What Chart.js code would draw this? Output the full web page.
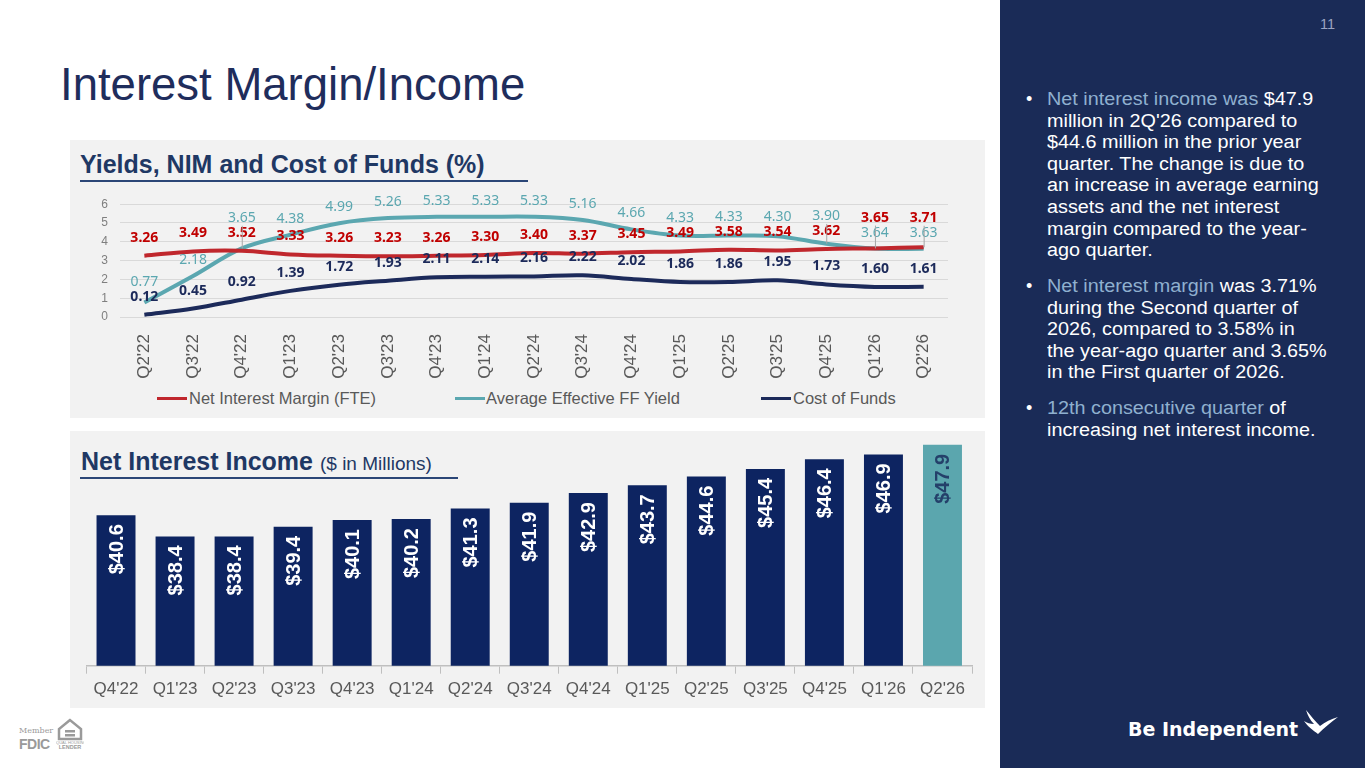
<!DOCTYPE html>
<html><head><meta charset="utf-8">
<script src="https://cdn.jsdelivr.net/npm/chart.js@4.4.0/dist/chart.umd.min.js"></script>
<style>
html,body{margin:0;padding:0;}
body{width:1365px;height:768px;position:relative;background:#fff;overflow:hidden;font-family:"Liberation Sans",Arial,sans-serif;}
.abs{position:absolute;}
#title{left:60px;top:62px;font-size:45.5px;line-height:46px;color:#1f2d5c;white-space:nowrap;}
.panel{background:#f2f2f2;}
.sub{color:#1f3864;font-weight:bold;white-space:nowrap;}
.uline{height:2px;background:#2b4677;}
#side{left:1000px;top:0;width:365px;height:768px;background:#1a2b57;}
.txt{color:#fff;font-size:18px;line-height:21.6px;white-space:nowrap;transform:scaleX(1.1);transform-origin:0 0;}
.hl{color:#8fb0cf;}
.bul{color:#fff;font-size:18px;line-height:21.6px;}
.leg{font-size:16.5px;color:#595959;white-space:nowrap;line-height:20px;}
.mk{height:3px;width:30px;}
</style></head><body>
<div id="title" class="abs">Interest Margin/Income</div>

<div class="abs panel" style="left:70px;top:140px;width:915px;height:278px;"></div>
<div class="abs sub" style="left:80px;top:151px;font-size:25px;line-height:26px;">Yields, NIM and Cost of Funds (%)</div>
<div class="abs uline" style="left:80px;top:180px;width:448px;"></div>
<canvas id="rates" class="abs" style="left:70px;top:185px;width:915px;height:200px;"></canvas>

<div class="abs mk" style="left:157px;top:397px;background:#c0272d;"></div>
<div class="abs leg" style="left:189px;top:388px;">Net Interest Margin (FTE)</div>
<div class="abs mk" style="left:455px;top:397px;background:#5ba7b0;"></div>
<div class="abs leg" style="left:486px;top:388px;">Average Effective FF Yield</div>
<div class="abs mk" style="left:761px;top:397px;background:#1c2a5a;"></div>
<div class="abs leg" style="left:793px;top:388px;">Cost of Funds</div>

<div class="abs panel" style="left:70px;top:431px;width:915px;height:277px;"></div>
<div class="abs sub" style="left:81px;top:448px;font-size:25px;line-height:27px;">Net Interest Income <span style="font-weight:normal;font-size:19px;">($ in Millions)</span></div>
<div class="abs uline" style="left:80px;top:477px;width:378px;"></div>
<canvas id="income" class="abs" style="left:70px;top:430px;width:915px;height:278px;"></canvas>

<div id="side" class="abs"></div>
<div class="abs" style="left:1320px;top:16px;font-size:14.5px;color:#9aa5c2;">11</div>

<div class="abs bul" style="left:1026px;top:89px;">•</div>
<div class="abs txt" style="left:1047px;top:89px;"><span class="hl">Net interest income was</span> $47.9<br>million in 2Q'26 compared to<br>$44.6 million in the prior year<br>quarter. The change is due to<br>an increase in average earning<br>assets and the net interest<br>margin compared to the year-<br>ago quarter.</div>
<div class="abs bul" style="left:1026px;top:276px;">•</div>
<div class="abs txt" style="left:1047px;top:276px;"><span class="hl">Net interest margin</span> was 3.71%<br>during the Second quarter of<br>2026, compared to 3.58% in<br>the year-ago quarter and 3.65%<br>in the First quarter of 2026.</div>
<div class="abs bul" style="left:1026px;top:398px;">•</div>
<div class="abs txt" style="left:1047px;top:398px;"><span class="hl">12th consecutive quarter</span> of<br>increasing net interest income.</div>

<div class="abs" style="left:1128px;top:720px;color:#fff;font-family:'DejaVu Sans',sans-serif;font-weight:bold;font-size:19px;line-height:19px;white-space:nowrap;">Be Independent</div>
<svg class="abs" style="left:1303px;top:708px;" width="36" height="30" viewBox="0 0 36 30"><path d="M3 2 C5 8 7 12 11 16 C7 16 4 15 1 13 C5 19 10 22 15 26 C21 20 28 14 35 9 C28 11 22 14 17 18 C12 13 8 8 3 2 Z" fill="#fff"/></svg>

<div class="abs" style="left:19px;top:726px;font-family:'DejaVu Serif',serif;font-size:8px;color:#9a9a9a;">Member</div>
<div class="abs" style="left:19px;top:736px;font-weight:bold;font-size:14px;color:#9a9a9a;letter-spacing:-0.5px;">FDIC</div>
<svg class="abs" style="left:56px;top:718px;" width="28" height="32" viewBox="0 0 28 32"><path d="M14 2 L3 11 L3 21 L25 21 L25 11 Z" fill="none" stroke="#9a9a9a" stroke-width="2.5"/><rect x="9" y="12" width="10" height="2.5" fill="#9a9a9a"/><rect x="9" y="16" width="10" height="2.5" fill="#9a9a9a"/><text x="14" y="26" font-size="4" text-anchor="middle" fill="#9a9a9a" font-family="Liberation Sans">EQUAL HOUSING</text><text x="14" y="31" font-size="5.5" font-weight="bold" text-anchor="middle" fill="#9a9a9a" font-family="Liberation Sans">LENDER</text></svg>

<script>
// ---------- data ----------
const rateQuarters = ["Q2'22","Q3'22","Q4'22","Q1'23","Q2'23","Q3'23","Q4'23","Q1'24","Q2'24","Q3'24","Q4'24","Q1'25","Q2'25","Q3'25","Q4'25","Q1'26","Q2'26"];
const netInterestMargin = [3.26,3.49,3.52,3.33,3.26,3.23,3.26,3.30,3.40,3.37,3.45,3.49,3.58,3.54,3.62,3.65,3.71];
const avgEffectiveFFYield = [0.77,2.18,3.65,4.38,4.99,5.26,5.33,5.33,5.33,5.16,4.66,4.33,4.33,4.30,3.90,3.64,3.63];
const costOfFunds = [0.12,0.45,0.92,1.39,1.72,1.93,2.11,2.14,2.16,2.22,2.02,1.86,1.86,1.95,1.73,1.60,1.61];
const rateSeriesNames = ["Net Interest Margin (FTE)","Average Effective FF Yield","Cost of Funds"];
const rateAxisMin = 0, rateAxisMax = 6, rateAxisStep = 1;

const incomeQuarters = ["Q4'22","Q1'23","Q2'23","Q3'23","Q4'23","Q1'24","Q2'24","Q3'24","Q4'24","Q1'25","Q2'25","Q3'25","Q4'25","Q1'26","Q2'26"];
const netInterestIncome = [40.6,38.4,38.4,39.4,40.1,40.2,41.3,41.9,42.9,43.7,44.6,45.4,46.4,46.9,47.9];
const incomeAxisMin = 25, incomeAxisMax = 48.5;

// ---------- styles ----------
const RED = '#c0272d', TEAL = '#5ba7b0', NAVY = '#1c2a5a';
const BAR_NAVY = '#0d2461', BAR_TEAL = '#5ba6ae';
const FONT = '"Liberation Sans", Arial, sans-serif';

const lineLabels = {
  id: 'lineLabels',
  afterDatasetsDraw(chart, args, opts) {
    const ctx = chart.ctx;
    const n = chart.data.labels.length;
    for (let i = 0; i < n; i++) {
      const items = chart.data.datasets.map((ds, di) => {
        const el = chart.getDatasetMeta(di).data[i];
        return { v: ds.data[i], x: el.x, py: el.y, y: el.y - opts.offset[di], st: opts.styles[di] };
      }).sort((a, b) => a.v - b.v);
      let prev = Infinity;
      items.forEach(it => {
        const y = Math.min(it.y, prev - opts.gap);
        prev = y;
        ctx.save();
        if (it.y - y > 8) {
          ctx.strokeStyle = opts.leaderColor;
          ctx.lineWidth = 1;
          ctx.beginPath();
          ctx.moveTo(it.x + 0.5, y + 8);
          ctx.lineTo(it.x + 0.5, it.py);
          ctx.stroke();
        }
        ctx.font = it.st.font;
        ctx.fillStyle = it.st.color;
        ctx.textAlign = 'center';
        ctx.textBaseline = 'middle';
        ctx.fillText(it.v.toFixed(2), it.x, y);
        ctx.restore();
      });
    }
  }
};

new Chart(document.getElementById('rates'), {
  type: 'line',
  data: {
    labels: rateQuarters,
    datasets: [
      { label: rateSeriesNames[0], data: netInterestMargin, borderColor: RED, backgroundColor: RED },
      { label: rateSeriesNames[1], data: avgEffectiveFFYield, borderColor: TEAL, backgroundColor: TEAL },
      { label: rateSeriesNames[2], data: costOfFunds, borderColor: NAVY, backgroundColor: NAVY }
    ]
  },
  options: {
    responsive: false,
    animation: false,
    devicePixelRatio: 1,
    layout: { padding: { top: 15, right: 37, left: 0, bottom: 0 } },
    elements: { line: { borderWidth: 4, tension: 0.35, cubicInterpolationMode: 'default' }, point: { radius: 0, hoverRadius: 0 } },
    plugins: {
      legend: { display: false },
      tooltip: { enabled: false },
      lineLabels: {
        offset: [18, 16, 18],
        gap: 15,
        leaderColor: '#a6a6a6',
        styles: [
          { font: 'bold 14px "Noto Sans", sans-serif', color: '#c00000' },
          { font: '14px "Noto Sans", sans-serif', color: TEAL },
          { font: 'bold 14px "Noto Sans", sans-serif', color: NAVY }
        ]
      }
    },
    scales: {
      x: {
        offset: true,
        grid: { display: false },
        border: { display: false },
        ticks: { color: '#595959', font: { family: FONT, size: 17 }, minRotation: 90, maxRotation: 90, padding: 9, autoSkip: false },
        afterFit: s => { s.height = 68; }
      },
      y: {
        min: rateAxisMin, max: rateAxisMax,
        grid: { color: '#d9d9d9', lineWidth: 1, drawTicks: false },
        border: { display: false },
        ticks: { stepSize: rateAxisStep, color: '#7f7f7f', font: { family: FONT, size: 12 }, padding: 12 },
        afterFit: s => { s.width = 50; }
      }
    }
  },
  plugins: [lineLabels]
});

const barLabels = {
  id: 'barLabels',
  afterDatasetsDraw(chart, args, opts) {
    const ctx = chart.ctx;
    const meta = chart.getDatasetMeta(0);
    const data = chart.data.datasets[0].data;
    meta.data.forEach((el, i) => {
      ctx.save();
      ctx.translate(el.x, el.y + opts.inset);
      ctx.rotate(-Math.PI / 2);
      ctx.font = opts.font;
      ctx.fillStyle = i === data.length - 1 ? opts.lastColor : opts.color;
      ctx.textAlign = 'right';
      ctx.textBaseline = 'middle';
      ctx.fillText('$' + data[i].toFixed(1), 0, 1);
      ctx.restore();
    });
  }
};

new Chart(document.getElementById('income'), {
  type: 'bar',
  data: {
    labels: incomeQuarters,
    datasets: [{
      label: 'Net Interest Income',
      data: netInterestIncome,
      backgroundColor: netInterestIncome.map((v, i) => i === netInterestIncome.length - 1 ? BAR_TEAL : BAR_NAVY),
      barPercentage: 0.66,
      categoryPercentage: 1
    }]
  },
  options: {
    responsive: false,
    animation: false,
    devicePixelRatio: 1,
    layout: { padding: { top: 9, right: 13, left: 16.5, bottom: 0 } },
    plugins: {
      legend: { display: false },
      tooltip: { enabled: false },
      barLabels: { inset: 9, font: 'bold 20px "Liberation Sans", Arial, sans-serif', color: '#ffffff', lastColor: '#24406a' }
    },
    scales: {
      x: {
        grid: { offset: true, drawOnChartArea: false, tickLength: 8, color: '#bfbfbf' },
        border: { display: true, color: '#bfbfbf', width: 1.5 },
        ticks: { color: '#595959', font: { family: FONT, size: 17 }, padding: 5, maxRotation: 0, autoSkip: false },
        afterFit: s => { s.height = 42.3; }
      },
      y: { display: false, min: incomeAxisMin, max: incomeAxisMax }
    }
  },
  plugins: [barLabels]
});
</script>
</body></html>
